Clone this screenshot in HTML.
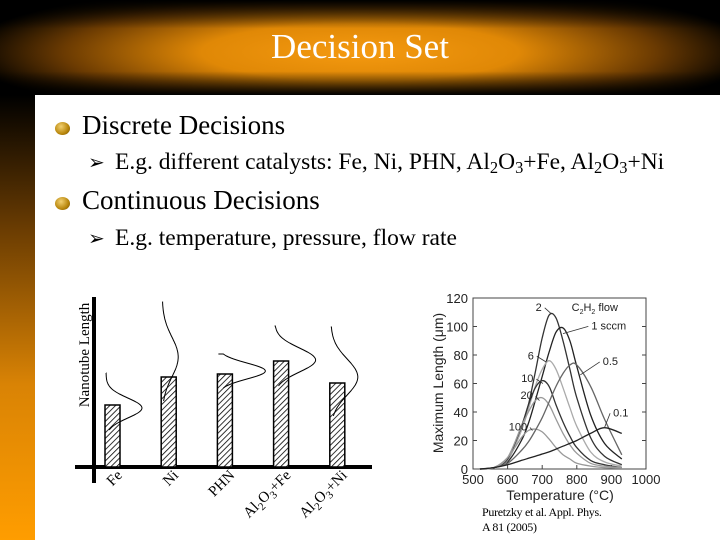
<!DOCTYPE html>
<html><head><meta charset="utf-8"><style>
body{margin:0;width:720px;height:540px;overflow:hidden;background:#fff;font-family:"Liberation Serif",serif;position:relative}
#hdr{position:absolute;left:0;top:0;width:720px;height:95px;background:radial-gradient(ellipse 55% 75% at 50% 55%,#f59a10 0%,#e08806 40%,#6a3a02 75%,#000 100%)}
#hdr:after{content:"";position:absolute;inset:0;background:linear-gradient(#000 0%,rgba(0,0,0,0) 30%,rgba(0,0,0,0) 75%,#000 100%)}
#title{position:absolute;left:0;top:27px;width:720px;text-align:center;color:#fff;font-size:35px;z-index:2}
#strip{position:absolute;left:0;top:95px;width:35px;height:445px;background:linear-gradient(#000 0%,#6a3c02 30%,#d98305 65%,#ff9d00 100%)}
.t{position:absolute;white-space:nowrap;color:#000}
.coin{position:absolute;width:15px;height:13px;border-radius:50%;background:radial-gradient(circle at 40% 35%,#f2d070,#b8860b 60%,#6b4a06)}
sub{font-size:70%;vertical-align:-4px}
</style></head><body>
<div id="hdr"></div>
<div id="title">Decision Set</div>
<div id="strip"></div>
<div class="coin" style="left:55px;top:122px"></div>
<div class="t" style="left:82px;top:110px;font-size:27px">Discrete Decisions</div>
<div class="t" style="left:88px;top:150px;font-size:20px">➢</div>
<div class="t" style="left:115px;top:149px;font-size:23.5px">E.g. different catalysts: Fe, Ni, PHN, Al<sub>2</sub>O<sub>3</sub>+Fe, Al<sub>2</sub>O<sub>3</sub>+Ni</div>
<div class="coin" style="left:55px;top:197px"></div>
<div class="t" style="left:82px;top:185px;font-size:27px">Continuous Decisions</div>
<div class="t" style="left:88px;top:226px;font-size:20px">➢</div>
<div class="t" style="left:115px;top:225px;font-size:23.5px">E.g. temperature, pressure, flow rate</div>

<svg id="left" width="720" height="540" style="position:absolute;left:0;top:0">
<defs><pattern id="hatch" width="4" height="4" patternUnits="userSpaceOnUse" patternTransform="rotate(45)"><rect width="4" height="4" fill="#fff"/><line x1="0" y1="0" x2="0" y2="4" stroke="#000" stroke-width="1.6"/></pattern></defs>
<line x1="94" y1="297" x2="94" y2="483" stroke="#000" stroke-width="4"/>
<line x1="75" y1="467" x2="372" y2="467" stroke="#000" stroke-width="4"/>
<text transform="translate(89,355) rotate(-90)" text-anchor="middle" font-size="15" font-family="Liberation Serif">Nanotube Length</text>
<g id="lg"></g>
</svg>

<svg id="right" width="720" height="540" style="position:absolute;left:0;top:0">
<g id="rg"></g>
</svg>
<div class="t" style="left:482px;top:505px;font-size:12px;letter-spacing:-0.3px">Puretzky et al. Appl. Phys.<br>A 81 (2005)</div>

<script>
// Left chart data
const cats=['Fe','Ni','PHN','Al2O3+Fe','Al2O3+Ni'];
const means=[62,90,93,106,84];
const tops=[94,165,113,141,140];
const peaks=[59,110,96,107,90];
const spreads=[10,20,8,12,18];
const amps=[36,16,47,41,27];
const NS='http://www.w3.org/2000/svg';
const lg=document.getElementById('lg');
const base=467, x0=105, step=56.2, bw=15;
function ly(v){return base-v;}
function mk(t,p,a){const e=document.createElementNS(NS,t);for(const k in a)e.setAttribute(k,a[k]);p.appendChild(e);return e;}
cats.forEach((c,i)=>{
  const bx=x0+i*step;
  const r=mk('rect',lg,{x:bx,y:ly(means[i]),width:bw,height:means[i],fill:'url(#hatch)',stroke:'#000','stroke-width':1.5});
  
  
  let d='M'+(bx+1)+','+ly(tops[i]);
  const yEnd=ly(peaks[i])+2.2*spreads[i];
  for(let y=ly(tops[i]);y<=yEnd;y+=1){
    const z=(y-ly(peaks[i]))/spreads[i];
    d+=' L'+(bx+1+amps[i]*Math.exp(-z*z/2)).toFixed(1)+','+y;
  }
  const p=mk('path',lg,{d:d,fill:'none',stroke:'#000','stroke-width':1});
  
  
  const t=mk('text',lg,{transform:`translate(${bx+18},${476}) rotate(-45)`,'text-anchor':'end','font-size':15,'font-family':'Liberation Serif'});
  
  
  const m=c.match(/^Al2O3\+(.*)$/);
  if(m){t.innerHTML='Al<tspan font-size="11" dy="4">2</tspan><tspan dy="-4">O</tspan><tspan font-size="11" dy="4">3</tspan><tspan dy="-4">+'+m[1]+'</tspan>';}
  else t.textContent=c;
});

// Right chart data
const temps=[520,560,600,640,660,680,700,720,740,760,780,800,840,880,930];
const flowLabels=['2','1 sccm','6','10','20','100','0.5','0.1'];
const s2=[0,1,6,28,45,68,92,108,106,90,70,50,22,9,3];
const s1=[0,1,5,20,32,48,65,82,96,99,90,72,38,18,7];
const s6=[0,1,6,27,42,58,70,76,70,57,43,30,12,5,2];
const s10=[0,1,7,30,45,57,62,58,45,33,23,15,6,3,1];
const s20=[0,1,8,30,40,48,50,45,35,25,17,11,4,2,1];
const s100=[0,1,8,22,27,28,26,21,15,10,7,4,2,1,0.5];
const s05=[0,1,4,13,19,27,36,47,58,67,73,73,58,35,10];
const s01=[0,1,3,6,7.5,9,10.5,12,14,16,18,20,25,29,25];
const xTicks=[500,600,700,800,900,1000];
const yTicks=[0,20,40,60,80,100,120];
const rg=document.getElementById('rg');
function rx(T){return 473+(T-500)*0.346;}
function ry(v){return 469-v*1.425;}
const fr=mk('rect',rg,{x:rx(500),y:ry(120),width:rx(1000)-rx(500),height:ry(0)-ry(120),fill:'none',stroke:'#444','stroke-width':1});


xTicks.forEach(v=>{
  mk('line',rg,{x1:rx(v),x2:rx(v),y1:ry(0),y2:ry(0)-4,stroke:'#444'});
  const t=mk('text',rg,{x:rx(v),y:484,'text-anchor':'middle','font-size':13,'font-family':'Liberation Sans',fill:'#222'});t.textContent=v;
  
  
});
yTicks.forEach(v=>{
  mk('line',rg,{x1:rx(500),x2:rx(500)+4,y1:ry(v),y2:ry(v),stroke:'#444'});
  mk('line',rg,{x1:rx(1000),x2:rx(1000)-4,y1:ry(v),y2:ry(v),stroke:'#444'});
  const t=mk('text',rg,{x:468,y:ry(v)+5,'text-anchor':'end','font-size':13,'font-family':'Liberation Sans',fill:'#222'});t.textContent=v;
  
  
});
const xt=mk('text',rg,{x:560,y:500,'text-anchor':'middle','font-size':14,'font-family':'Liberation Sans',fill:'#222'});xt.textContent='Temperature (°C)';


const yt=mk('text',rg,{transform:'translate(443,383) rotate(-90)','text-anchor':'middle','font-size':14,'font-family':'Liberation Sans',fill:'#222'});yt.textContent='Maximum Length (μm)';


const series=[s2,s1,s6,s10,s20,s100,s05,s01];
const colors=['#333','#222','#aaa','#333','#999','#999','#666','#222'];
const labelPos=[[690,111],[842,98],[667,77],[657,61],[655,49],[630,27],[875,73],[905,37]];
const leaderTo=[[726,109],[760,95],[712,75],[702,60],[692,48],[672,27],[810,66],[880,29]];
function smooth(pts){
  let d='M'+pts[0][0].toFixed(1)+','+pts[0][1].toFixed(1);
  for(let j=0;j<pts.length-1;j++){
    const p0=pts[Math.max(j-1,0)],p1=pts[j],p2=pts[j+1],p3=pts[Math.min(j+2,pts.length-1)];
    const c1=[p1[0]+(p2[0]-p0[0])/6,p1[1]+(p2[1]-p0[1])/6],c2=[p2[0]-(p3[0]-p1[0])/6,p2[1]-(p3[1]-p1[1])/6];
    d+=` C${c1[0].toFixed(1)},${c1[1].toFixed(1)} ${c2[0].toFixed(1)},${c2[1].toFixed(1)} ${p2[0].toFixed(1)},${p2[1].toFixed(1)}`;
  }
  return d;
}
series.forEach((s,i)=>{
  const pts=s.map((v,j)=>[rx(temps[j]),ry(v)]);
  const p=mk('path',rg,{d:smooth(pts),fill:'none',stroke:colors[i],'stroke-width':1.3,'stroke-linejoin':'round'});
  
  
  const lx=rx(labelPos[i][0]), lyy=ry(labelPos[i][1]);
  const right=labelPos[i][0]>leaderTo[i][0];
  const ln=mk('line',rg,{x1:right?lx-3:lx+(flowLabels[i].length*3+3),y1:lyy-3,x2:rx(leaderTo[i][0]),y2:ry(leaderTo[i][1]),stroke:'#333','stroke-width':0.8});
  
  
  const t=mk('text',rg,{x:lx,y:lyy,'text-anchor':right?'start':'middle','font-size':11,'font-family':'Liberation Sans',fill:'#222'});
  t.textContent=flowLabels[i];
  
  
});
const leg=mk('text',rg,{x:rx(785),y:ry(111),'font-size':11,'font-family':'Liberation Sans',fill:'#222'});
leg.innerHTML='C<tspan font-size="7" dy="3">2</tspan><tspan dy="-3">H</tspan><tspan font-size="7" dy="3">2</tspan><tspan dy="-3"> flow</tspan>';


</script>
</body></html>
